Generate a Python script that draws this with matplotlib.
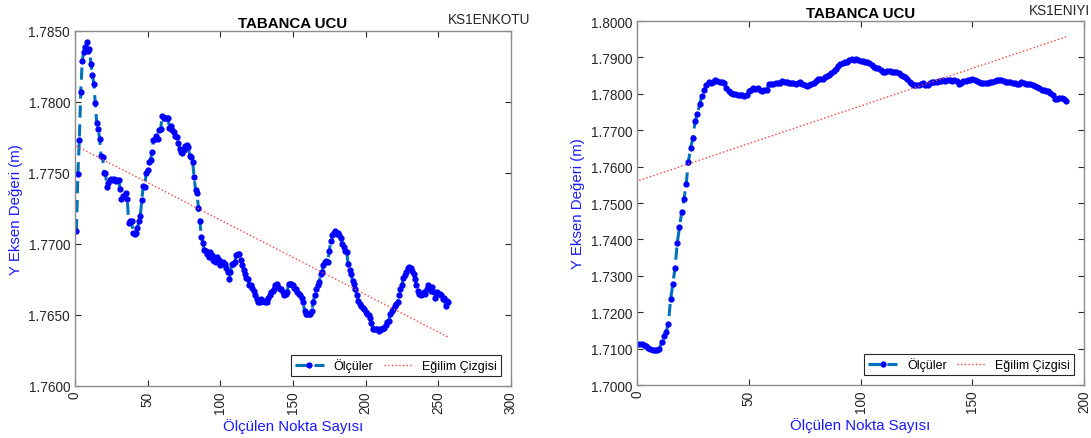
import matplotlib.pyplot as plt
import numpy as np

plt.rcParams['font.family'] = ['Liberation Sans', 'DejaVu Sans']

# KS1ENKOTU - Y değerleri (m)
enkotu_y = [
    1.7709, 1.7749, 1.7773, 1.7807, 1.7829, 1.7835, 1.7839, 1.7842, 1.7836, 1.7837,
    1.7827, 1.7819, 1.7813, 1.7799, 1.7785, 1.7781, 1.7774, 1.7762, 1.7761, 1.7750,
    1.7750, 1.7740, 1.7743, 1.7745, 1.7746, 1.7745, 1.7746, 1.7744, 1.7745, 1.7745,
    1.7739, 1.7732, 1.7734, 1.7734, 1.7736, 1.7732, 1.7715, 1.7716, 1.7716, 1.7708,
    1.7707, 1.7708, 1.7711, 1.7716, 1.7720, 1.7731, 1.7741, 1.7740, 1.7750, 1.7752,
    1.7758, 1.7759, 1.7765, 1.7773, 1.7774, 1.7776, 1.7774, 1.7780, 1.7781, 1.7790,
    1.7789, 1.7789, 1.7789, 1.7789, 1.7782, 1.7783, 1.7780, 1.7779, 1.7776, 1.7775,
    1.7771, 1.7767, 1.7765, 1.7764, 1.7766, 1.7769, 1.7770, 1.7768, 1.7762, 1.7761,
    1.7758, 1.7747, 1.7738, 1.7736, 1.7725, 1.7716, 1.7705, 1.7701, 1.7696, 1.7695,
    1.7693, 1.7691, 1.7694, 1.7692, 1.7689, 1.7688, 1.7687, 1.7691, 1.7689, 1.7685,
    1.7686, 1.7687, 1.7686, 1.7683, 1.7680, 1.7675, 1.7680, 1.7686, 1.7686, 1.7687,
    1.7692, 1.7693, 1.7693, 1.7689, 1.7685, 1.7682, 1.7679, 1.7676, 1.7675, 1.7671,
    1.7671, 1.7669, 1.7667, 1.7664, 1.7661, 1.7659, 1.7659, 1.7661, 1.7660, 1.7660,
    1.7659, 1.7659, 1.7662, 1.7664, 1.7666, 1.7667, 1.7668, 1.7671, 1.7672, 1.7670,
    1.7668, 1.7668, 1.7666, 1.7664, 1.7665, 1.7666, 1.7672, 1.7672, 1.7672, 1.7671,
    1.7669, 1.7668, 1.7666, 1.7665, 1.7664, 1.7662, 1.7659, 1.7653, 1.7651, 1.7651,
    1.7651, 1.7651, 1.7653, 1.7659, 1.7664, 1.7668, 1.7671, 1.7673, 1.7679, 1.7680,
    1.7685, 1.7687, 1.7688, 1.7687, 1.7695, 1.7702, 1.7706, 1.7708, 1.7709, 1.7707,
    1.7708, 1.7706, 1.7704, 1.7700, 1.7698, 1.7695, 1.7694, 1.7686, 1.7682, 1.7679,
    1.7674, 1.7672, 1.7668, 1.7664, 1.7660, 1.7658, 1.7656, 1.7655, 1.7654, 1.7652,
    1.7651, 1.7650, 1.7648, 1.7644, 1.7640, 1.7640, 1.7640, 1.7640, 1.7639, 1.7640,
    1.7640, 1.7641, 1.7641, 1.7643, 1.7645, 1.7646, 1.7651, 1.7653, 1.7654, 1.7656,
    1.7658, 1.7659, 1.7664, 1.7668, 1.7671, 1.7676, 1.7678, 1.7680, 1.7683, 1.7684,
    1.7683, 1.7681, 1.7679, 1.7675, 1.7671, 1.7667, 1.7665, 1.7664, 1.7665, 1.7666,
    1.7665, 1.7668, 1.7671, 1.7668, 1.7667, 1.7670, 1.7666, 1.7662, 1.7666, 1.7665,
    1.7665, 1.7664, 1.7661, 1.7662, 1.7656, 1.7660, 1.7659,
]

# KS1ENIYI - Y değerleri (m)
eniyi_y = [
    1.7112, 1.7112, 1.7110, 1.7107, 1.7103, 1.7098, 1.7096, 1.7095, 1.7095, 1.7098,
    1.7118, 1.7135, 1.7147, 1.7167, 1.7235, 1.7277, 1.7322, 1.7391, 1.7434, 1.7476,
    1.7510, 1.7553, 1.7614, 1.7652, 1.7679, 1.7725, 1.7744, 1.7771, 1.7794, 1.7810,
    1.7823, 1.7832, 1.7830, 1.7832, 1.7837, 1.7835, 1.7832, 1.7832, 1.7830, 1.7817,
    1.7808, 1.7803, 1.7801, 1.7799, 1.7797, 1.7796, 1.7796, 1.7794, 1.7796, 1.7808,
    1.7812, 1.7815, 1.7814, 1.7817, 1.7812, 1.7808, 1.7810, 1.7812, 1.7826, 1.7828,
    1.7828, 1.7829, 1.7829, 1.7830, 1.7835, 1.7832, 1.7832, 1.7830, 1.7830, 1.7829,
    1.7826, 1.7829, 1.7832, 1.7826, 1.7823, 1.7821, 1.7823, 1.7826, 1.7830, 1.7835,
    1.7840, 1.7841, 1.7842, 1.7846, 1.7849, 1.7853, 1.7858, 1.7863, 1.7869, 1.7876,
    1.7881, 1.7886, 1.7887, 1.7888, 1.7892, 1.7895, 1.7893, 1.7895, 1.7892, 1.7890,
    1.7890, 1.7888, 1.7887, 1.7884, 1.7879, 1.7874, 1.7872, 1.7870, 1.7865, 1.7861,
    1.7861, 1.7863, 1.7863, 1.7861, 1.7860, 1.7861, 1.7858, 1.7851, 1.7849, 1.7846,
    1.7840, 1.7832, 1.7826, 1.7823, 1.7823, 1.7824, 1.7826, 1.7830, 1.7824, 1.7824,
    1.7830, 1.7832, 1.7833, 1.7833, 1.7834, 1.7835, 1.7837, 1.7835, 1.7837, 1.7837,
    1.7835, 1.7837, 1.7835, 1.7828, 1.7830, 1.7834, 1.7835, 1.7837, 1.7838, 1.7840,
    1.7838, 1.7835, 1.7833, 1.7830, 1.7830, 1.7829, 1.7830, 1.7832, 1.7833, 1.7835,
    1.7837, 1.7838, 1.7838, 1.7835, 1.7833, 1.7833, 1.7832, 1.7830, 1.7830, 1.7827,
    1.7828, 1.7832, 1.7830, 1.7828, 1.7828, 1.7826, 1.7824, 1.7821, 1.7819, 1.7817,
    1.7812, 1.7810, 1.7809, 1.7808, 1.7803, 1.7796, 1.7787, 1.7787, 1.7789, 1.7789,
    1.7787, 1.7780,
]

panels = [
    dict(y=enkotu_y, code='KS1ENKOTU', xlim=(0, 300), xticks=np.arange(0, 301, 50),
         ylim=(1.760, 1.785), yticks=np.arange(1.760, 1.7851, 0.005),
         rect=[0.0687, 0.1185, 0.3996, 0.8087], code_xy=(0.486, 0.955)),
    dict(y=eniyi_y, code='KS1ENIYI', xlim=(0, 200), xticks=np.arange(0, 201, 50),
         ylim=(1.700, 1.800), yticks=np.arange(1.700, 1.8001, 0.010),
         rect=[0.5839, 0.1207, 0.4097, 0.8290], code_xy=(0.999, 0.975)),
]

fig = plt.figure(figsize=(10.91, 4.39), dpi=100)

for p in panels:
    ax = fig.add_axes(p['rect'])
    y = np.array(p['y'])
    x = np.arange(1, len(y) + 1)

    # ölçüler: kesikli çizgi + nokta
    ax.plot(x, y, linestyle='--', color='#0072BD', linewidth=2.2,
            dashes=(4, 2.2), marker='.', markersize=7,
            markerfacecolor='#0000FF', markeredgecolor='#0000FF', label='Ölçüler')

    # doğrusal eğilim
    k, b = np.polyfit(x, y, 1)
    ax.plot(x, k * x + b, linestyle=':', color='#ff4040', linewidth=1.0,
            label='Eğilim Çizgisi')

    ax.set_xlim(*p['xlim'])
    ax.set_ylim(*p['ylim'])
    ax.set_xticks(p['xticks'])
    ax.set_yticks(p['yticks'])
    ax.set_yticklabels([f'{v:.4f}' for v in p['yticks']])
    ax.tick_params(axis='x', labelrotation=90)
    ax.tick_params(direction='in', top=True, right=True, length=4,
                   labelsize=9.8, colors='#262626', width=0.8)
    for s in ax.spines.values():
        s.set_color('#8c8c8c')
        s.set_linewidth(1.0)

    ax.set_title('TABANCA UCU', fontsize=10.8, fontweight='bold', pad=3)
    ax.set_xlabel('Ölçülen Nokta Sayısı', fontsize=10.8, color='#1a1aff', labelpad=3)
    ax.set_ylabel('Y Eksen Değeri (m)', fontsize=10.8, color='#1a1aff', labelpad=4)

    leg = ax.legend(loc='lower right', ncol=2, fontsize=9.0, fancybox=False,
                    framealpha=1, edgecolor='#262626', borderaxespad=0.8,
                    handlelength=2.3, handletextpad=0.8, columnspacing=0.8,
                    borderpad=0.3)
    leg.get_frame().set_linewidth(0.8)

    fig.text(p['code_xy'][0], p['code_xy'][1], p['code'], fontsize=9.8,
             ha='right', va='center', color='#262626')

fig.savefig('out.png', dpi=100)
